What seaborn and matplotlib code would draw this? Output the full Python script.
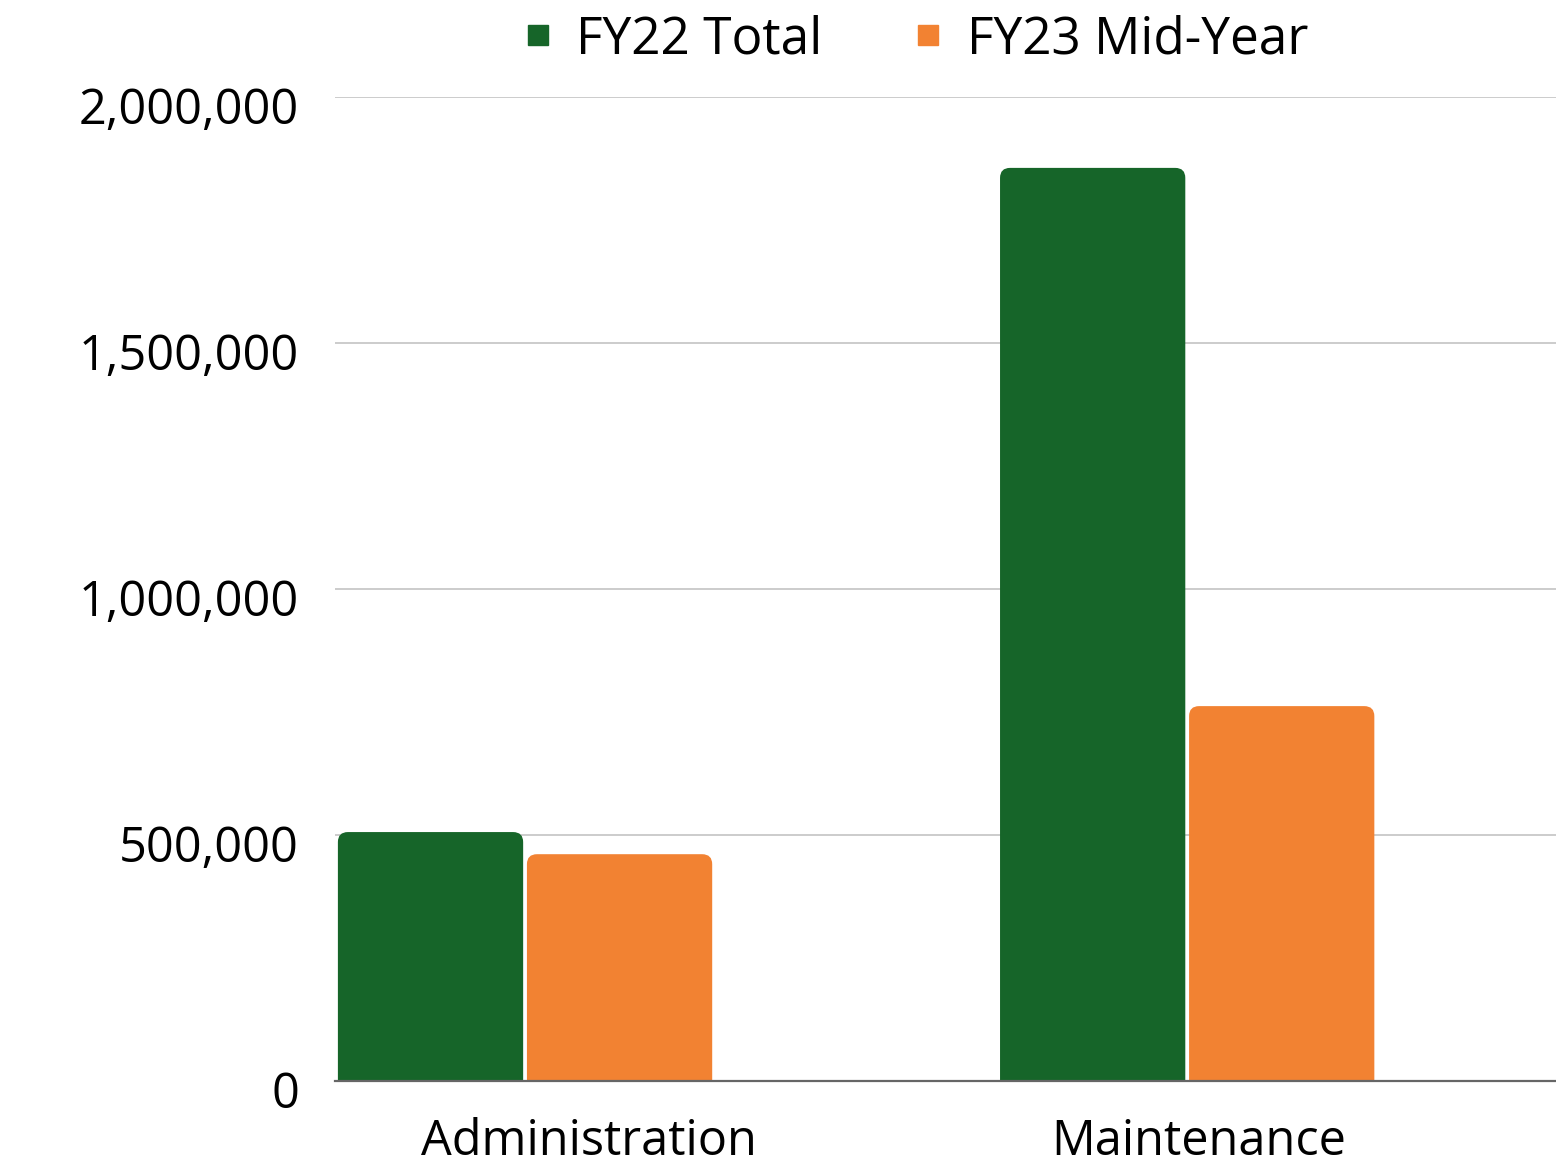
import numpy as np
import pandas as pd
import seaborn as sns
import matplotlib.pyplot as plt
from matplotlib.patches import FancyBboxPatch
from matplotlib.ticker import FuncFormatter
from matplotlib.transforms import ScaledTranslation

categories = ['Administration', 'Maintenance']
series = ['FY22 Total', 'FY23 Mid-Year']
fy22_total = [506000, 1856000]
fy23_mid_year = [461000, 762000]

palette = {'FY22 Total': '#166529', 'FY23 Mid-Year': '#F28232'}

df = pd.DataFrame({
    'category': categories * 2,
    'series': [series[0]] * 2 + [series[1]] * 2,
    'value': fy22_total + fy23_mid_year,
})

sns.set_theme(style='white')
plt.rcParams['font.family'] = ['Open Sans', 'DejaVu Sans']
plt.rcParams['text.color'] = 'black'

fig = plt.figure(figsize=(15.56, 11.65), dpi=100)
ax = fig.add_axes([0.2153, 0.0721, 0.7847, 0.8446])

sns.barplot(
    data=df,
    x='category',
    y='value',
    hue='series',
    palette=palette,
    saturation=1,
    width=0.571,
    gap=0.02,
    linewidth=0,
    ax=ax,
    legend=False
)

ax.set_xlim(-0.287, 1.557)
ax.set_ylim(0, 2000000)

# rounded tops on the bars
px_x = 1 / 662.0
px_y = 1e6 / 492.0
r = 10 * px_x
aspect = px_y / px_x
for p in list(ax.patches):
    x0, w, h = p.get_x(), p.get_width(), p.get_height()
    fb = FancyBboxPatch(
        (x0, -2 * r * aspect), w, h + 2 * r * aspect,
        boxstyle=f'round,pad=0,rounding_size={r}',
        mutation_aspect=aspect,
        facecolor=p.get_facecolor(),
        linewidth=0,
        clip_on=True,
        zorder=2
    )
    ax.add_patch(fb)
    p.remove()

ax.set_yticks([0, 500000, 1000000, 1500000, 2000000])
ax.yaxis.set_major_formatter(FuncFormatter(lambda v, _: f'{int(v):,}'))
ax.grid(axis='y', color='#C8C8C8', linewidth=1.3)
ax.set_axisbelow(True)
for s in ['top', 'right', 'left']:
    ax.spines[s].set_visible(False)
ax.spines['bottom'].set_color('#666666')
ax.spines['bottom'].set_linewidth(1.6)
ax.spines['bottom'].set_zorder(3)

ax.set_xticks(np.arange(len(categories)) + np.array([0.097, 0.018]))
ax.set_xticklabels(categories)
ax.tick_params(axis='x', length=0, pad=26, labelsize=35, labelcolor='black')
ax.tick_params(axis='y', length=0, pad=26, labelsize=35, labelcolor='black')
shift = ScaledTranslation(0, -6 / 72, fig.dpi_scale_trans)
for t in ax.get_yticklabels():
    t.set_transform(t.get_transform() + shift)
ax.set_xlabel('')
ax.set_ylabel('')

handles = [
    plt.Line2D([0], [0], marker='s', color=palette[s], lw=0, markersize=15, label=s)
    for s in series
]
fig.legend(
    handles=handles,
    loc='center',
    bbox_to_anchor=(0.589, 0.966),
    ncol=2,
    frameon=False,
    fontsize=37,
    labelcolor='black',
    handlelength=0.5,
    handletextpad=0.5,
    columnspacing=1.8
)

fig.savefig('out.png', dpi=100)
